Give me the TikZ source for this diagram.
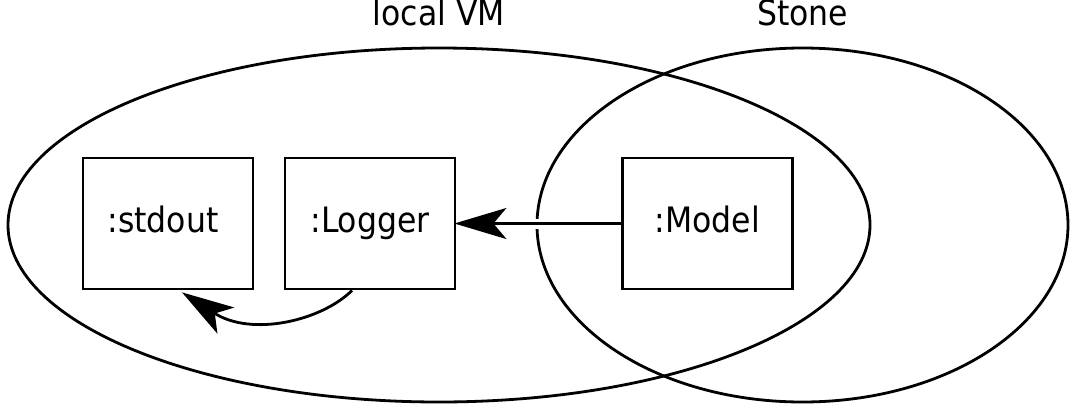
\documentclass[tikz,border=0pt]{standalone}
\usepackage{fontspec}
\setmainfont{DejaVu Sans Condensed}
\usetikzlibrary{arrows.meta}
\begin{document}
\begin{tikzpicture}[x=1pt,y=-1pt,line width=2.8pt,
  box/.style={draw, minimum width=170pt, minimum height=131pt, inner sep=0pt,
    text height=25pt, text depth=7pt, font=\fontsize{35}{40}\selectfont},
  lbl/.style={anchor=base, inner sep=0pt, font=\fontsize{35}{40}\selectfont},
  tip/.style={-{Stealth[length=52pt,width=31pt,inset=13pt]}}]
\useasboundingbox (0,0) rectangle (1074,413);
\draw (439,225) ellipse [x radius=431, y radius=177];
\draw (802.5,225) ellipse [x radius=265.5, y radius=177];
\node[lbl] (vm) at (439,25) {local VM};
\node[lbl] (stone) at (802.5,25) {Stone};
\node[box] (stdout) at (168,223.5) {:stdout\kern10pt};
\node[box] (logger) at (370,223.5) {:Logger};
\node[box] (model) at (707.5,223.5) {:Model};
\draw[white, line width=10pt, shorten >=40pt] (model.west) -- (logger.east);
\draw[tip] (model.west) -- ([xshift=-2pt]logger.east);
\draw[tip] ([xshift=-18pt]logger.south) .. controls +(-30,30) and +(70,45) .. ([xshift=14pt,yshift=-2pt]stdout.south);
\end{tikzpicture}
\end{document}
